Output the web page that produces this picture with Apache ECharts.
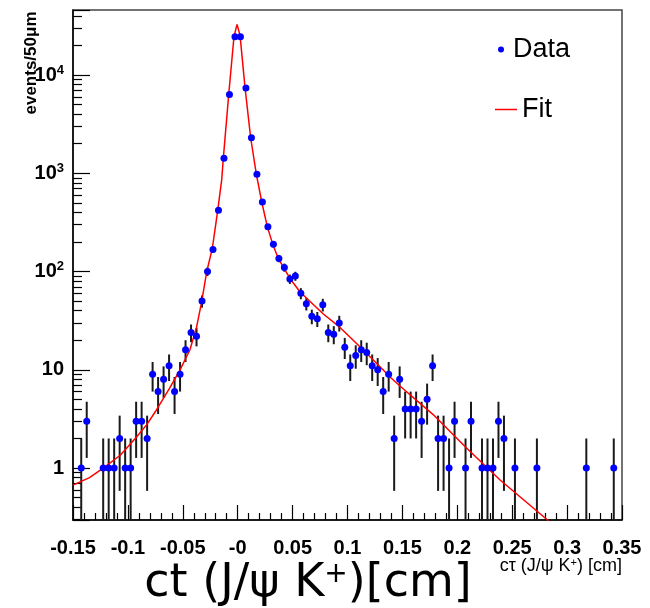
<!DOCTYPE html>
<html>
<head>
<meta charset="utf-8">
<script src="https://cdn.jsdelivr.net/npm/echarts@6/dist/echarts.min.js"></script>
<style>
html,body{margin:0;padding:0;background:#fff;}
#chart{width:650px;height:608px;}
</style>
</head>
<body>
<div id="chart"></div>
<script>
// bin centres (cm) and counts per 50 µm bin
const binCenters = [
  -0.1425, -0.1375, -0.1225, -0.1175, -0.1125, -0.1075, -0.1025, -0.0975, -0.0925, -0.0875,
  -0.0825, -0.0775, -0.0725, -0.0675, -0.0625, -0.0575, -0.0525, -0.0475, -0.0425, -0.0375,
  -0.0325, -0.0275, -0.0225, -0.0175, -0.0125, -0.0075, -0.0025, 0.0025, 0.0075, 0.0125,
  0.0175, 0.0225, 0.0275, 0.0325, 0.0375, 0.0425, 0.0475, 0.0525, 0.0575, 0.0625,
  0.0675, 0.0725, 0.0775, 0.0825, 0.0875, 0.0925, 0.0975, 0.1025, 0.1075, 0.1125,
  0.1175, 0.1225, 0.1275, 0.1325, 0.1375, 0.1425, 0.1475, 0.1525, 0.1575, 0.1625,
  0.1675, 0.1725, 0.1775, 0.1825, 0.1875, 0.1925, 0.1975, 0.2075, 0.2125, 0.2225,
  0.2275, 0.2325, 0.2375, 0.2425, 0.2525, 0.2725, 0.3175, 0.3425
];
const counts = [
  1, 3, 1, 1, 1, 2, 1, 1, 3, 3,
  2, 9, 6, 8, 11, 6, 9, 16, 24, 22,
  50, 100, 168, 420, 1420, 6350, 24500, 24500, 7400, 2300,
  975, 510, 285, 190, 136, 110, 84, 90, 60, 47,
  35, 33, 46, 24, 23, 30, 17, 11, 14, 16,
  15, 11, 10, 6, 9, 2, 8, 4, 4, 4,
  3, 5, 11, 2, 2, 1, 3, 1, 3, 1,
  1, 1, 3, 2, 1, 1, 1, 1
];
// fitted curve
const fitX = [
  -0.150, -0.135, -0.1225, -0.107, -0.0925, -0.083, -0.074, -0.062, -0.0525, -0.0435,
  -0.0375, -0.033, -0.0282, -0.0231, -0.0182, -0.0146, -0.0131, -0.0082, -0.0034, -0.0006,
  0.0021, 0.0067, 0.0118, 0.0170, 0.0219, 0.027, 0.0319, 0.037, 0.0422, 0.0476,
  0.0568, 0.078, 0.0932, 0.108, 0.1235, 0.140, 0.148, 0.178, 0.2086, 0.239,
  0.28, 0.29
];
const fitY = [
  0.67, 0.80, 1.0, 1.35, 2.05, 2.75, 3.9, 6.5, 10, 16,
  27, 48, 100, 172, 420, 850, 1420, 6300, 24500, 32800,
  25500, 7400, 2300, 975, 510, 285, 190, 136, 108, 85,
  62, 37, 27, 18.6, 12.6, 8.2, 6.8, 3.5, 1.59, 0.755,
  0.31, 0.25
];
const xMin = -0.15, xMax = 0.35, xStep = 0.05;
const yMin = 0.296, yMax = 45900;

const sans = "'Liberation Sans', Arial, sans-serif";

const chart = echarts.init(document.getElementById('chart'), null, {renderer: 'canvas'});

const pointData = binCenters.map((x, i) => [x, counts[i]]);
const errData = binCenters.map((x, i) => {
  const e = Math.sqrt(counts[i]);
  return [x, Math.max(counts[i] - e, yMin), counts[i] + e];
});
const fitData = fitX.map((x, i) => [x, fitY[i]]);

const option = {
  animation: false,
  backgroundColor: '#fff',
  grid: {left: 73, right: 28, top: 10, bottom: 88, show: true, borderColor: '#444', borderWidth: 1.5, backgroundColor: 'transparent'},
  legend: [
    {
      data: [{name: 'Data', icon: 'circle'}],
      left: 493, top: 31, itemWidth: 14, itemHeight: 6, selectedMode: false,
      textStyle: {fontFamily: sans, fontSize: 27, color: '#000'}
    },
    {
      data: [{name: 'Fit', icon: 'rect', itemStyle: {color: '#ff0000'}}],
      left: 490, top: 91, itemWidth: 22, itemHeight: 1.5, selectedMode: false,
      textStyle: {fontFamily: sans, fontSize: 27, color: '#000'}
    }
  ],
  xAxis: {
    type: 'value', min: xMin, max: xMax, interval: xStep,
    axisLine: {show: true, onZero: false, lineStyle: {color: '#000', width: 1.5}},
    axisTick: {show: true, inside: true, length: 15, lineStyle: {color: '#000', width: 1.2}},
    minorTick: {show: true, splitNumber: 5, length: 7, lineStyle: {color: '#000', width: 1.2}},
    splitLine: {show: false},
    axisLabel: {
      margin: 18, color: '#000', fontSize: 20, fontFamily: sans, fontWeight: 'bold',
      formatter: v => Math.abs(v) < 1e-9 ? '-0' : String(parseFloat(v.toFixed(2)))
    }
  },
  yAxis: {
    type: 'log', logBase: 10, min: yMin, max: yMax,
    axisLine: {show: true, onZero: false, lineStyle: {color: '#000', width: 1.5}},
    axisTick: {show: true, inside: true, length: 17, lineStyle: {color: '#000', width: 1.2}},
    minorTick: {show: true, splitNumber: 9, length: 9, lineStyle: {color: '#000', width: 1.2}},
    splitLine: {show: false},
    axisLabel: {
      margin: 9, color: '#000', fontSize: 20, fontFamily: sans, fontWeight: 'bold',
      showMinLabel: false, showMaxLabel: false,
      formatter: v => {
        const p = Math.round(Math.log10(v));
        if (Math.abs(Math.log10(v) - p) > 1e-6) return '';
        if (p === 0) return '1';
        if (p === 1) return '10';
        return '10{sup|' + p + '}';
      },
      rich: {sup: {fontSize: 13, fontFamily: sans, fontWeight: 'bold', verticalAlign: 'top', padding: [0, 0, 10, 0], color: '#000'}}
    }
  },
  series: [
    {
      name: 'errors', type: 'custom', data: errData, clip: true, z: 2,
      encode: {x: 0, y: [1, 2]},
      renderItem: (params, api) => {
        const p1 = api.coord([api.value(0), api.value(1)]);
        const p2 = api.coord([api.value(0), api.value(2)]);
        return {type: 'line', shape: {x1: p1[0], y1: p1[1], x2: p2[0], y2: p2[1]},
                style: {stroke: '#1a1a1a', lineWidth: 2}};
      },
      silent: true
    },
    {
      name: 'Fit', type: 'line', data: fitData, symbol: 'none', showSymbol: false, clip: true, z: 3,
      lineStyle: {color: '#ff0000', width: 1.5}, itemStyle: {color: '#ff0000'}
    },
    {
      name: 'Data', type: 'scatter', data: pointData, symbol: 'circle', symbolSize: 7, z: 4,
      itemStyle: {color: '#0000ff', opacity: 1}
    }
  ],
  graphic: [
    {
      type: 'text', x: 31, y: 63, rotation: Math.PI / 2,
      style: {text: 'events/50\u03bcm', font: "bold 17px " + sans, fill: '#000', align: 'center', verticalAlign: 'middle'}
    },
    {
      type: 'text', x: 622, y: 566,
      style: {text: 'c\u03c4 (J/\u03c8 K{s|+}) [cm]', fontFamily: sans, fontSize: 18, fill: '#000', align: 'right', verticalAlign: 'middle',
              rich: {s: {fontSize: 11, fontFamily: sans, verticalAlign: 'top', padding: [0, 0, 7, 0]}}}
    },
    {
      type: 'text', x: 308, y: 584,
      style: {text: 'ct (J/\u03c8 K{s|+})[cm]', fontFamily: "'DejaVu Sans', sans-serif", fontSize: 46, fill: '#000', align: 'center', verticalAlign: 'middle',
              rich: {s: {fontSize: 28, fontFamily: "'DejaVu Sans', sans-serif", verticalAlign: 'top', padding: [0, 0, 16, 0]}}}
    }
  ]
};
chart.setOption(option);
</script>
</body>
</html>
